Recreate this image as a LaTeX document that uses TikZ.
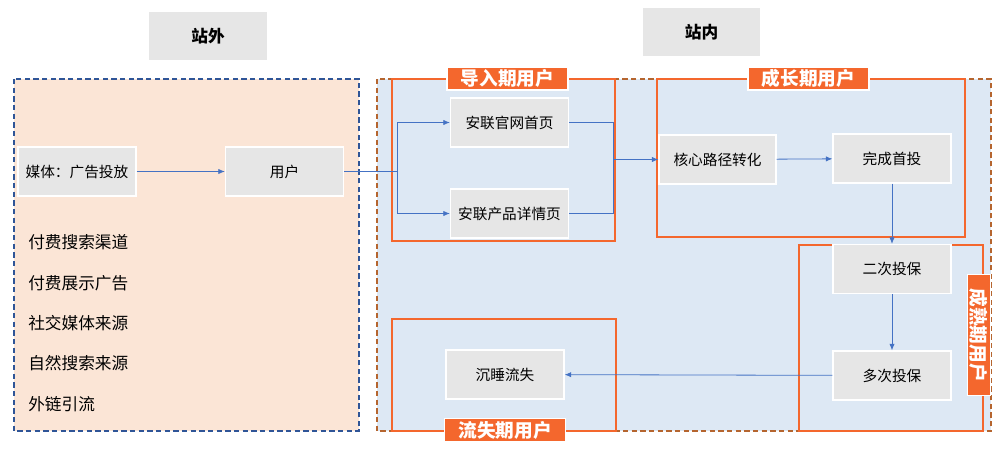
\documentclass[tikz,border=0pt]{standalone}
\usepackage{fontspec}
\setmainfont{Noto Sans CJK SC}
\usetikzlibrary{arrows.meta}
\definecolor{boxgray}{HTML}{E6E6E6}
\definecolor{peach}{HTML}{FBE5D6}
\definecolor{paleblue}{HTML}{DDE8F4}
\definecolor{navy}{HTML}{2F5597}
\definecolor{rust}{HTML}{B5652F}
\definecolor{stageorange}{HTML}{F4672D}
\definecolor{linkblue}{HTML}{4472C4}
\begin{document}
\begin{tikzpicture}[x=0.75pt,y=-0.75pt,
    stepbox/.style={fill=boxgray,draw=white,line width=0.8pt,minimum width=88.5pt,
      minimum height=36.75pt,inner sep=0pt,font=\fontsize{11}{13}\selectfont},
    zonehead/.style={fill=boxgray,minimum width=88pt,minimum height=36pt,
      inner sep=0pt,font=\fontsize{12.5}{14}\selectfont\bfseries},
    stagetag/.style={fill=stageorange,draw=white,line width=0.8pt,text=white,
      minimum width=90.75pt,minimum height=17.25pt,inner sep=0pt,
      font=\fontsize{14}{16}\selectfont\bfseries},
    stageframe/.style={draw=stageorange,line width=1.3pt},
    source/.style={anchor=west,inner sep=0pt,font=\fontsize{12.5}{14}\selectfont},
    link/.style={draw=linkblue,line width=0.6pt},
    arrow/.style={link,-{Latex[length=5pt,width=4pt]}}]
  \useasboundingbox[fill=white] (0,0) rectangle (1000,453);

  % zones
  \draw[navy,fill=peach,dashed,dash pattern=on 4pt off 2.5pt,line width=1pt]
    (14,79) rectangle (359,431);
  \draw[rust,fill=paleblue,dashed,dash pattern=on 4pt off 2.5pt,line width=1pt]
    (377,79) rectangle (991,431);
  \node[zonehead] (outside) at (208,36) {站外};
  \node[zonehead] (inside) at (701.5,32) {站内};

  % stage frames
  \draw[stageframe] (392,79) rectangle (615,241);
  \draw[stageframe] (657,79) rectangle (965,237);
  \draw[stageframe] (799,245) rectangle (983,431);
  \draw[stageframe] (392,319) rectangle (616,431);
  \node[stagetag] (intro) at (507.5,78.5) {导入期用户};
  \node[stagetag] (growth) at (808.5,78.5) {成长期用户};
  \node[stagetag] (churn) at (505,430) {流失期用户};
  \node[stagetag,rotate=-90] (mature) at (979,335) {成熟期用户};

  % traffic sources
  \foreach \y/\txt in {242/付费搜索渠道,283/付费展示广告,323/社交媒体来源,363/自然搜索来源,404/外链引流}
    \node[source] at (28,\y) {\txt};

  % steps
  \node[stepbox] (media) at (77,171.5) {媒体：广告投放};
  \node[stepbox] (user) at (284.5,171.5) {用户};
  \node[stepbox] (home) at (509.5,122.5) {安联官网首页};
  \node[stepbox] (detail) at (509.5,213.5) {安联产品详情页};
  \node[stepbox,minimum width=87.75pt] (core) at (717.5,159.5) {核心路径转化};
  \node[stepbox] (first) at (892,158.5) {完成首投};
  \node[stepbox] (second) at (892,269) {二次投保};
  \node[stepbox] (repeat) at (892,375.5) {多次投保};
  \node[stepbox] (dormant) at (505,374.5) {沉睡流失};

  \coordinate (split) at (397,171.5);
  \coordinate (merge) at (613,159.5);

  % flows
  \draw[arrow] (media) -- (user);
  \draw[link] (user.east) -- (split);
  \draw[arrow] (split) |- (home.west);
  \draw[arrow] (split) |- (detail.west);
  \draw[link] (home.east) -| (merge);
  \draw[link] (detail.east) -| (merge);
  \draw[arrow] (merge) -- (core.west);
  \draw[arrow] (core) -- (first);
  \draw[arrow] (first) -- (second);
  \draw[arrow] (second) -- (repeat);
  \draw[arrow] (repeat) -- (dormant);
\end{tikzpicture}
\end{document}
